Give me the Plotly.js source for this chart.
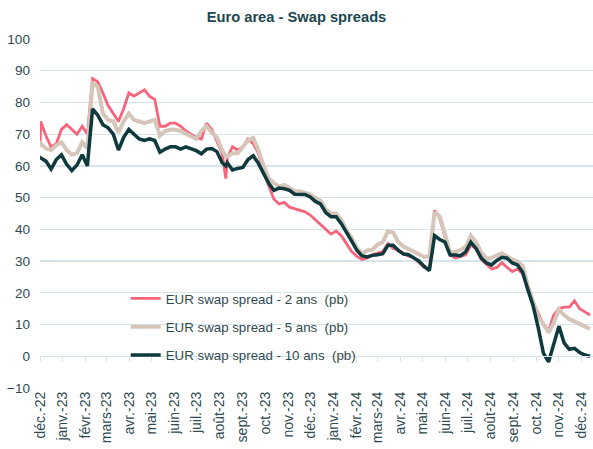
<!DOCTYPE html>
<html>
<head>
<meta charset="utf-8">
<script src="https://cdn.plot.ly/plotly-3.0.1.min.js"></script>
<style>html,body{margin:0;padding:0;background:#fff;}#chart{width:593px;height:449px;}</style>
</head>
<body>
<div id="chart"></div>
<script>
const dates = ['2022-12-01','2022-12-02','2022-12-09','2022-12-16','2022-12-23','2022-12-30','2023-01-06','2023-01-13','2023-01-20','2023-01-27','2023-02-03','2023-02-10','2023-02-17','2023-02-24','2023-03-03','2023-03-10','2023-03-17','2023-03-24','2023-03-31','2023-04-07','2023-04-14','2023-04-21','2023-04-28','2023-05-05','2023-05-12','2023-05-19','2023-05-26','2023-06-02','2023-06-09','2023-06-16','2023-06-23','2023-06-30','2023-07-07','2023-07-14','2023-07-21','2023-07-28','2023-08-04','2023-08-09','2023-08-11','2023-08-18','2023-08-25','2023-09-01','2023-09-08','2023-09-15','2023-09-22','2023-09-29','2023-10-06','2023-10-13','2023-10-20','2023-10-27','2023-11-03','2023-11-10','2023-11-17','2023-11-24','2023-12-01','2023-12-08','2023-12-15','2023-12-22','2023-12-29','2024-01-05','2024-01-12','2024-01-19','2024-01-26','2024-02-02','2024-02-09','2024-02-16','2024-02-23','2024-03-01','2024-03-08','2024-03-15','2024-03-22','2024-03-29','2024-04-05','2024-04-12','2024-04-19','2024-04-26','2024-05-03','2024-05-10','2024-05-17','2024-05-24','2024-05-31','2024-06-07','2024-06-14','2024-06-21','2024-06-28','2024-07-05','2024-07-12','2024-07-19','2024-07-26','2024-08-02','2024-08-09','2024-08-16','2024-08-23','2024-08-30','2024-09-06','2024-09-13','2024-09-20','2024-09-27','2024-10-04','2024-10-11','2024-10-18','2024-10-25','2024-11-01','2024-11-08','2024-11-15','2024-11-22','2024-11-29','2024-12-06','2024-12-13'];

const spread2y = [66,74,69.5,66,67,71.5,73,71.5,70,72.5,70,87.5,86.5,83,79,76.5,74,78,83,82,83,84,82,81,72.5,72.5,73.5,73.5,72.5,71,70,69,68.5,73.5,71.5,68,64,
  56,
  62.5,66,65,66,68.5,67,64,58,54,49.5,48,48.5,47,46.5,46,45.5,44.5,43,41.5,40,38.5,39.5,38,35.5,33,31.5,30.5,31,32,32.5,33,35.5,34,33.5,32.5,31.5,31,29.5,28,27.5,46,43.5,38,32,31,31.5,32,35,34,30.5,29,27.5,28,29.5,28,26.7,27.5,26,21,17,13.5,10,8,13,15,15.5,15.5,17.5,15,14,13];

const spread5y = [66,67,65.5,65,66.5,67.5,65,63.5,64,67.5,65.5,86,85,76.5,74.5,74,70.5,74,76.5,74.5,74,73.5,74,74.5,69.5,71,71.4,71.4,71,70.2,69.3,68.5,71,72.5,70.5,69,65,
  63,
  63,64,64,66,68,68.8,65,60,56,54.6,53.5,54,53,52,52,51.5,51,50,49,46.3,45,45,43,39.6,37.3,34.2,32.2,33.4,33.6,35.2,36,39.4,39,36,34.6,33.8,33,32.1,31.3,31.5,45.5,44,38,32.8,32.9,33.5,34.5,38,36,32.8,30.8,31,31.8,32.5,31.4,30.6,29.8,28.5,22.2,17.3,12.5,10.2,7.5,10.5,14.8,13,11.7,11,10.2,9.3,8.6];

const spread10y = [62,62.5,61.5,59,62,63.5,60.5,58.5,60.3,63.5,60,78,76,73,72,70,65,69,71.5,70,68.5,68,68.5,68,64.3,65.3,66,66,65.3,66,65.5,64.8,63.8,65.3,65.5,64.5,61,
  60,
  61,58.7,59.2,59.5,62,63.2,60.8,57.5,54.5,52.3,53,52.8,52.3,51.1,51,51,50.2,48.8,48,45.3,44,44,41.8,38.8,36.3,33.4,31.6,31.3,31.8,32,32.3,35,35,33.4,32.2,32,31,30,28.3,27,38,36.8,36,31.9,31.9,31.7,32.9,36,34,31,29.4,28.8,30.2,31.2,30.9,29.4,28.8,26.5,21,16,9,1,-1.8,4.3,9.5,4.2,2.2,2.5,1.2,0.4,0];

const seriesNames = ['EUR swap spread - 2 ans \u00a0(pb)','EUR swap spread - 5 ans \u00a0(pb)','EUR swap spread - 10 ans \u00a0(pb)'];
const seriesColors = ['#f7647c','#d6c5b9','#0e393d'];
const seriesWidths = [2.8,4,3.5];

const tickDates = ['2022-12-01','2023-01-01','2023-02-01','2023-03-01','2023-04-01','2023-05-01','2023-06-01','2023-07-01','2023-08-01','2023-09-01','2023-10-01','2023-11-01','2023-12-01','2024-01-01','2024-02-01','2024-03-01','2024-04-01','2024-05-01','2024-06-01','2024-07-01','2024-08-01','2024-09-01','2024-10-01','2024-11-01','2024-12-01'];
const tickLabels = ['déc.-22','janv.-23','févr.-23','mars-23','avr.-23','mai-23','juin-23','juil.-23','août-23','sept.-23','oct.-23','nov.-23','déc.-23','janv.-24','févr.-24','mars-24','avr.-24','mai-24','juin-24','juil.-24','août-24','sept.-24','oct.-24','nov.-24','déc.-24'];

const xRange = ['2022-12-01','2024-12-17'];
const yRange = [-10, 100];
const font = 'Liberation Sans, Arial, sans-serif';
const textColor = '#2f4a4f';
const gridColor = '#d6e4eb';

const allY = [spread2y, spread5y, spread10y];
const traces = allY.map((ys, i) => ({
  x: dates, y: ys, type: 'scatter', mode: 'lines', name: seriesNames[i],
  legendgroup: 'g' + i,
  line: {color: seriesColors[i], width: seriesWidths[i]},
  hoverinfo: 'skip'
}));
// invisible trace so the secondary x-axis (tick marks along y=0) is drawn
traces.push({x: dates, y: spread10y, xaxis: 'x2', type: 'scatter', mode: 'lines',
  line: {color: 'rgba(0,0,0,0)', width: 0}, showlegend: false, hoverinfo: 'skip'});

const layout = {
  width: 593, height: 449,
  margin: {l: 40, r: 0, t: 39, b: 61},
  paper_bgcolor: '#ffffff', plot_bgcolor: '#ffffff',
  font: {family: font, color: textColor, size: 12},
  title: {text: '<b>Euro area - Swap spreads</b>', x: 0.5, xref: 'container', y: 0.962, yref: 'container', yanchor: 'middle',
    font: {family: font, size: 14.7, color: '#1c4750'}},
  xaxis: {type: 'date', range: xRange, tickvals: tickDates, ticktext: tickLabels, tickangle: -90,
    showgrid: false, zeroline: false, showline: false, ticks: '', tickfont: {size: 14, color: textColor}},
  xaxis2: {type: 'date', range: xRange, overlaying: 'x', anchor: 'free', position: (0 - yRange[0]) / (yRange[1] - yRange[0]),
    tickvals: tickDates, showticklabels: false, ticks: 'outside', ticklen: 5, tickcolor: gridColor, tickwidth: 1,
    showline: true, linecolor: gridColor, linewidth: 1, showgrid: false, zeroline: false},
  yaxis: {range: yRange, dtick: 10, tick0: 0, showgrid: true, gridcolor: gridColor, gridwidth: 1.3, zeroline: false,
    showline: false, ticks: '', ticklabelstandoff: 9, tickfont: {size: 13.6, color: textColor}},
  showlegend: true,
  legend: {x: 0.155, y: 0.3, xanchor: 'left', yanchor: 'top', bgcolor: 'rgba(0,0,0,0)',
    traceorder: 'grouped', tracegroupgap: 8, font: {size: 13.3, color: textColor}}
};

Plotly.newPlot('chart', traces, layout, {displayModeBar: false, staticPlot: true});
</script>
</body>
</html>
